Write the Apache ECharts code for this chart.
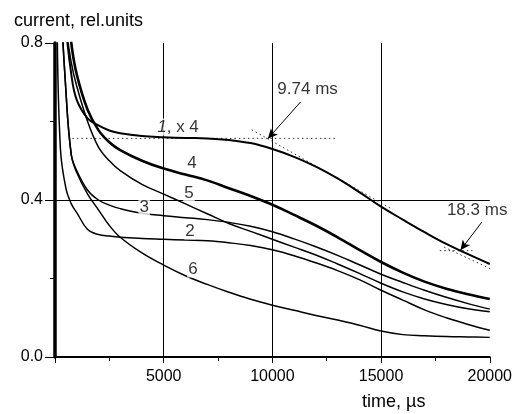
<!DOCTYPE html>
<html><head><meta charset="utf-8">
<script src="https://cdn.jsdelivr.net/npm/echarts@6/dist/echarts.min.js"></script>
<style>html,body{margin:0;padding:0;background:#fff}#c{width:515px;height:414px}</style>
</head><body><div id="c"></div>
<script>
// ---- data (time in µs, current in relative units) ----
const timeUs   = [0, 100, 250, 500, 750, 1000, 1500, 2000, 2500, 3000, 4000, 5000, 6000, 7000, 8000, 9000, 10000, 11000, 12000, 13000, 14000, 15000, 16000, 17000, 18000, 19000, 20000];
const curve1x4 = [2.5, 1.8, 1.2, 0.85, 0.72, 0.655, 0.608, 0.59, 0.577, 0.57, 0.563, 0.56, 0.558, 0.557, 0.553, 0.545, 0.53, 0.51, 0.485, 0.455, 0.42, 0.383, 0.35, 0.318, 0.288, 0.262, 0.237];
const curve2   = [2.5, 0.85, 0.53, 0.43, 0.39, 0.368, 0.325, 0.312, 0.308, 0.305, 0.302, 0.3, 0.298, 0.296, 0.291, 0.284, 0.273, 0.258, 0.24, 0.22, 0.197, 0.17, 0.145, 0.12, 0.1, 0.083, 0.068];
const curve3   = [2.5, 1.5, 0.95, 0.68, 0.515, 0.475, 0.425, 0.4, 0.387, 0.378, 0.366, 0.36, 0.355, 0.35, 0.343, 0.333, 0.319, 0.301, 0.281, 0.259, 0.235, 0.211, 0.19, 0.17, 0.152, 0.136, 0.122];
const curve4   = [2.5, 1.9, 1.3, 0.95, 0.8, 0.72, 0.63, 0.578, 0.547, 0.527, 0.5, 0.48, 0.465, 0.45, 0.43, 0.41, 0.388, 0.362, 0.335, 0.305, 0.273, 0.242, 0.215, 0.192, 0.174, 0.16, 0.148];
const curve5   = [2.5, 1.7, 1.1, 0.85, 0.75, 0.69, 0.6, 0.535, 0.5, 0.475, 0.44, 0.415, 0.39, 0.365, 0.34, 0.32, 0.3, 0.28, 0.26, 0.237, 0.213, 0.188, 0.166, 0.148, 0.134, 0.123, 0.115];
const curve6   = [2.5, 1.5, 0.95, 0.68, 0.515, 0.47, 0.415, 0.375, 0.335, 0.305, 0.265, 0.234, 0.207, 0.185, 0.165, 0.147, 0.132, 0.119, 0.106, 0.094, 0.081, 0.066, 0.057, 0.054, 0.052, 0.051, 0.05];

// construction lines (dotted) for the 9.74 ms and 18.3 ms points
const plateauX  = [800, 12900];      const plateauY  = [0.557, 0.557];
const tangent1X = [9050, 15500];     const tangent1Y = [0.579, 0.377];
const level2X   = [17700, 19200];    const level2Y   = [0.271, 0.271];
const tangent2X = [17900, 20600];    const tangent2Y = [0.280, 0.210];

// tick labels
const xTickLabels = [5000, 10000, 15000, 20000];
const yTickLabels = ['0.0', '0.4', '0.8'];

// annotation texts and anchor points (data coordinates)
const curveLabels = ['{i|1}, x 4', '4', '5', '3', '2', '6'];
const curveLabelT = [5660, 6300, 6164, 4102, 6210, 6347];
const curveLabelV = [0.586, 0.494, 0.418, 0.381, 0.321, 0.224];
const noteTexts = ['9.74 ms', '18.3 ms'];
const noteT = [11620, 19420];
const noteV = [0.683, 0.375];
const arrowFrom = [[11300, 0.650], [19640, 0.344]];
const arrowTo   = [[9790, 0.556], [18650, 0.272]];

// ---- chart ----
const FONT = 'Liberation Sans, Arial, Helvetica, sans-serif';
const pairs = (xs, ys) => xs.map((x, i) => [x, ys[i]]);
const chart = echarts.init(document.getElementById('c'), null, {renderer: 'canvas'});

const curveSeries = (data, w) => ({
  type: 'line', data: pairs(timeUs, data), showSymbol: false, symbol: 'none',
  smooth: 0.4, clip: true,
  lineStyle: {color: '#000', width: w}, z: 3, silent: true
});
const dotted = (xs, ys) => ({
  type: 'line', data: pairs(xs, ys), showSymbol: false, symbol: 'none', clip: false,
  lineStyle: {color: '#333', width: 1, type: [1.5, 3]}, z: 2, silent: true
});

const xStep = xTickLabels[1] - xTickLabels[0];
const yMax = parseFloat(yTickLabels[yTickLabels.length - 1]);
const yStep = parseFloat(yTickLabels[1]) - parseFloat(yTickLabels[0]);

chart.setOption({
  animation: false,
  backgroundColor: '#fff',
  textStyle: {fontFamily: FONT},
  title: [
    {text: 'current, rel.units', left: 9, top: 7, textStyle: {fontFamily: FONT, fontSize: 18, fontWeight: 'normal', color: '#000'}},
    {text: 'time, µs', left: 357, top: 388, textStyle: {fontFamily: FONT, fontSize: 18, fontWeight: 'normal', color: '#000'}}
  ],
  grid: {left: 55, right: 24, top: 43, bottom: 57},
  xAxis: {
    type: 'value', min: 0, max: xTickLabels[xTickLabels.length - 1], interval: xStep,
    axisLine: {show: true, onZero: false, lineStyle: {color: '#000', width: 2}},
    axisTick: {show: true, length: 6, lineStyle: {color: '#000', width: 1}},
    minorTick: {show: true, splitNumber: 2, length: 4, lineStyle: {color: '#000', width: 1}},
    axisLabel: {showMinLabel: false, margin: 12, fontSize: 16, color: '#000', fontFamily: FONT, formatter: v => String(v)},
    splitLine: {show: true, showMinLine: false, showMaxLine: false, lineStyle: {color: '#000', width: 1}}
  },
  yAxis: {
    type: 'value', min: 0, max: yMax, interval: yStep,
    axisLine: {show: true, onZero: false, lineStyle: {color: '#000', width: 3.5}},
    axisTick: {show: true, length: 10, lineStyle: {color: '#000', width: 1}},
    minorTick: {show: true, splitNumber: 2, length: 5, lineStyle: {color: '#000', width: 1}},
    axisLabel: {margin: 12, fontSize: 16, color: '#000', fontFamily: FONT, formatter: v => v.toFixed(1)},
    splitLine: {show: true, showMinLine: false, showMaxLine: false, lineStyle: {color: '#000', width: 1}}
  },
  series: [
    dotted(plateauX, plateauY),
    dotted(tangent1X, tangent1Y),
    dotted(level2X, level2Y),
    dotted(tangent2X, tangent2Y),
    curveSeries(curve6, 1.5),
    curveSeries(curve2, 1.5),
    curveSeries(curve3, 1.5),
    curveSeries(curve5, 1.5),
    curveSeries(curve4, 2.6),
    curveSeries(curve1x4, 2),
    {
      type: 'scatter', silent: true, z: 10,
      symbolSize: 1, itemStyle: {color: 'rgba(0,0,0,0)'},
      data: curveLabels.map((t, i) => ({value: [curveLabelT[i], curveLabelV[i]], name: t})),
      label: {
        show: true, position: 'inside', formatter: p => p.name,
        fontFamily: FONT, fontSize: 17, color: '#000',
        backgroundColor: '#fff', padding: [0, 1],
        rich: {i: {fontStyle: 'italic', fontSize: 17, fontFamily: FONT, color: '#000'}}
      }
    },
    {
      type: 'scatter', silent: true, z: 10,
      symbolSize: 1, itemStyle: {color: 'rgba(0,0,0,0)'},
      data: noteTexts.map((t, i) => ({value: [noteT[i], noteV[i]], name: t})),
      label: {show: true, position: 'inside', formatter: p => p.name, fontFamily: FONT, fontSize: 17, color: '#000'},
      markLine: {
        silent: true, symbol: ['none', 'arrow'], symbolSize: [7, 10],
        lineStyle: {color: '#000', width: 1, type: 'solid'},
        label: {show: false},
        data: arrowFrom.map((f, i) => [{coord: f}, {coord: arrowTo[i]}])
      }
    }
  ]
});
</script></body></html>
